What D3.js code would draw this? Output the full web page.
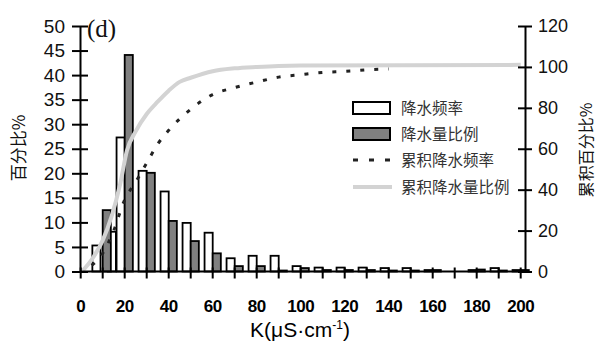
<!DOCTYPE html>
<html>
<head>
<meta charset="utf-8">
<script src="https://cdn.jsdelivr.net/npm/d3@7"></script>
<style>
  html, body { margin: 0; padding: 0; background: #fff; }
  svg { display: block; }
</style>
</head>
<body>
<svg id="chart" width="598" height="342"></svg>
<script>
// Conductivity (K, μS·cm⁻¹) classes: frequency bars end at freqAt, amount bars start at amountAt
const freqAt   = [9, 16, 20, 30, 40, 50, 60, 70, 80, 90, 100, 110, 120, 130, 140, 150, 160, 170, 180, 190, 200];
const freqPct  = [5.3, 8.1, 27.3, 20.5, 16.3, 9.9, 7.9, 2.7, 3.2, 3.2, 1.1, 0.8, 0.8, 0.8, 0.7, 0.7, 0.3, 0, 0.3, 0.7, 0.3];
const amountAt = [10, 20, 30, 40, 50, 60, 70, 80, 90, 100, 110, 120, 130, 140, 150, 160, 170, 180, 190, 200];
const amountPct = [12.5, 44.1, 20.1, 10.3, 6.2, 3.7, 1.1, 1.1, 0.2, 0.7, 0.3, 0.3, 0.3, 0.2, 0.2, 0.3, 0, 0.4, 0.2, 0.3];

// Cumulative curves (right axis)
const cumFreqK   = [5, 10, 15, 20, 25, 30, 35, 40, 50, 60, 70, 80, 90, 100, 110, 120, 130, 140];
const cumFreqPct = [3, 8.9, 20, 35.1, 43.7, 53, 62.3, 69, 79.3, 86.5, 89.9, 92.6, 95, 96.2, 97.3, 97.8, 98.6, 99];
const cumAmtK    = [1, 5, 10, 14, 18, 21, 25, 30, 35, 40, 45, 50, 60, 70, 80, 90, 100, 200];
const cumAmtPct  = [0.5, 5.8, 15.2, 26.8, 43, 59, 68.5, 77, 83, 88.4, 92.7, 94.7, 97.9, 99.3, 100, 100.5, 100.7, 101];

const leftTicks  = [0, 5, 10, 15, 20, 25, 30, 35, 40, 45, 50];
const rightTicks = [0, 20, 40, 60, 80, 100, 120];
const xLabelTicks = [0, 20, 40, 60, 80, 100, 120, 140, 160, 180, 200];
const xMinorTicks = d3.range(0, 201, 10);

const legendItems = ["降水频率", "降水量比例", "累积降水频率", "累积降水量比例"];

const svg = d3.select("#chart");
const x  = d3.scaleLinear().domain([0, 200]).range([80.7, 520.7]);
const yL = d3.scaleLinear().domain([0, 50]).range([271.5, 26]);
const yR = d3.scaleLinear().domain([0, 120]).range([271.5, 26]);
const barW = 3.7; // bar width in K units
const sans = "'Liberation Sans', Arial, sans-serif";
const cjk = "'Noto Sans CJK SC', sans-serif";

// Bars: frequency (white), then amount (grey)
const gBars = svg.append("g");
gBars.selectAll("rect.freq")
  .data(freqPct.map((v, i) => ({ k: freqAt[i], v })))
  .join("rect")
  .attr("class", "freq")
  .attr("x", d => x(d.k - barW))
  .attr("width", d => x(d.k) - x(d.k - barW))
  .attr("y", d => yL(d.v))
  .attr("height", d => yL(0) - yL(d.v))
  .attr("fill", "#fff").attr("stroke", "#000").attr("stroke-width", 1.8);
gBars.selectAll("rect.amt")
  .data(amountPct.map((v, i) => ({ k: amountAt[i], v })))
  .join("rect")
  .attr("class", "amt")
  .attr("x", d => x(d.k))
  .attr("width", d => x(d.k + barW) - x(d.k))
  .attr("y", d => yL(d.v))
  .attr("height", d => yL(0) - yL(d.v))
  .attr("fill", "#808080").attr("stroke", "#000").attr("stroke-width", 1.8);

// Cumulative lines
const lineR = d3.line().x(d => x(d[0])).y(d => yR(d[1])).curve(d3.curveMonotoneX);
svg.append("path")
  .datum(cumAmtK.map((k, i) => [k, cumAmtPct[i]]))
  .attr("d", lineR)
  .attr("fill", "none").attr("stroke", "#d3d3d3").attr("stroke-width", 4);
svg.append("path")
  .datum(cumFreqK.map((k, i) => [k, cumFreqPct[i]]))
  .attr("d", lineR)
  .attr("fill", "none").attr("stroke", "#222").attr("stroke-width", 3)
  .attr("stroke-dasharray", "4,10");

// Axes with ticks crossing the axis line
const axL = svg.append("g").attr("transform", `translate(${x(0) - 0.7},0)`)
  .call(d3.axisLeft(yL).tickValues(leftTicks).tickSizeInner(8).tickSizeOuter(0).tickPadding(6));
axL.select(".domain").attr("stroke-width", 2);
axL.selectAll(".tick line").attr("x1", 8).attr("x2", -8).attr("stroke-width", 2);
axL.selectAll(".tick text").attr("font-family", sans).attr("font-size", 19).attr("fill", "#111").attr("x", -15);

const axR = svg.append("g").attr("transform", "translate(525,0)")
  .call(d3.axisRight(yR).tickValues(rightTicks).tickSizeInner(7).tickSizeOuter(0).tickPadding(6));
axR.select(".domain").attr("stroke-width", 2);
axR.selectAll(".tick line").attr("x1", -7).attr("x2", 7).attr("stroke-width", 2);
axR.selectAll(".tick text").attr("font-family", sans).attr("font-size", 18).attr("fill", "#111").attr("x", 13);

const axB = svg.append("g").attr("transform", `translate(0,${yL(0)})`);
axB.append("line").attr("x1", x(0) - 0.7).attr("x2", 525).attr("stroke", "#000").attr("stroke-width", 2);
axB.selectAll("line.t").data(xMinorTicks).join("line").attr("class", "t")
  .attr("x1", d => x(d)).attr("x2", d => x(d)).attr("y1", -4).attr("y2", 7)
  .attr("stroke", "#000").attr("stroke-width", 2);
axB.selectAll("text").data(xLabelTicks).join("text")
  .attr("x", d => x(d)).attr("y", 40)
  .attr("text-anchor", "middle")
  .attr("font-family", sans).attr("font-weight", "bold").attr("font-size", 17)
  .attr("letter-spacing", -0.5)
  .attr("fill", "#000").text(d => d);

// Axis titles
svg.append("text")
  .attr("transform", "translate(25,148) rotate(-90)")
  .attr("text-anchor", "middle").attr("font-family", cjk).attr("font-size", 17).attr("fill", "#111")
  .text("百分比%");
svg.append("text")
  .attr("transform", "translate(592,150) rotate(-90)")
  .attr("text-anchor", "middle").attr("font-family", cjk).attr("font-size", 16).attr("fill", "#111")
  .text("累积百分比%");
const xt = svg.append("text")
  .attr("x", 300).attr("y", 337).attr("text-anchor", "middle")
  .attr("font-family", sans).attr("font-size", 21).attr("fill", "#000");
xt.append("tspan").text("K(μS·cm");
xt.append("tspan").attr("dy", -8).attr("font-size", 12).text("-1");
xt.append("tspan").attr("dy", 8).text(")");

// Panel tag
svg.append("text").attr("x", 87).attr("y", 37)
  .attr("font-family", "'Liberation Serif', 'Times New Roman', serif").attr("font-size", 25).attr("fill", "#111")
  .text("(d)");

// Legend
const lg = svg.append("g");
const rowY = [108, 134, 160, 187];
lg.append("rect").attr("x", 353).attr("y", rowY[0] - 6).attr("width", 37).attr("height", 12)
  .attr("fill", "#fff").attr("stroke", "#000").attr("stroke-width", 2);
lg.append("rect").attr("x", 353).attr("y", rowY[1] - 6).attr("width", 37).attr("height", 12)
  .attr("fill", "#808080").attr("stroke", "#000").attr("stroke-width", 2);
lg.append("line").attr("x1", 353).attr("x2", 392).attr("y1", rowY[2]).attr("y2", rowY[2])
  .attr("stroke", "#222").attr("stroke-width", 3).attr("stroke-dasharray", "5,11");
lg.append("line").attr("x1", 353).attr("x2", 392).attr("y1", rowY[3]).attr("y2", rowY[3])
  .attr("stroke", "#d3d3d3").attr("stroke-width", 4);
lg.selectAll("text").data(legendItems).join("text")
  .attr("x", 401).attr("y", (d, i) => rowY[i] + 5.5)
  .attr("font-family", cjk).attr("font-size", 15.5).attr("fill", "#333")
  .text(d => d);
</script>
</body>
</html>
